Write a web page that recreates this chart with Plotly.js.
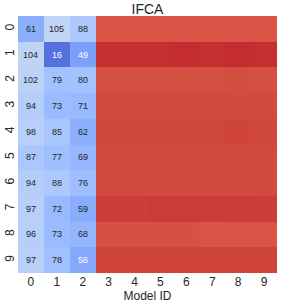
<!DOCTYPE html>
<html>
<head>
<meta charset="utf-8">
<script src="https://cdn.plot.ly/plotly-3.0.1.min.js"></script>
<style>html,body{margin:0;padding:0;background:#fff;}#chart{width:281px;height:305px;}</style>
</head>
<body>
<div id="chart"></div>
<script>
var modelIds = [0,1,2,3,4,5,6,7,8,9];
var clientIds = [0,1,2,3,4,5,6,7,8,9];
// Rows = clients (y), columns = model IDs (x)
var row0 = [61, 105, 88, 244, 244, 244, 244, 244, 244, 244];
var row1 = [104, 16, 49, 262, 262, 262, 263, 262, 263, 262];
var row2 = [102, 79, 80, 248, 248, 248, 248, 248, 249, 248];
var row3 = [94, 73, 71, 250, 250, 250, 250, 250, 250, 250];
var row4 = [98, 85, 62, 252, 252, 252, 252, 252, 253, 252];
var row5 = [87, 77, 69, 250, 250, 250, 250, 250, 250, 250];
var row6 = [94, 88, 76, 250, 250, 250, 250, 250, 250, 250];
var row7 = [97, 72, 59, 256, 256, 257, 257, 257, 257, 256];
var row8 = [96, 73, 68, 247, 247, 247, 247, 244, 245, 244];
var row9 = [97, 78, 56, 253, 253, 253, 253, 253, 253, 253];
var annotatedCols = [0, 1, 2];
var zRows = [row0,row1,row2,row3,row4,row5,row6,row7,row8,row9];
var zMin = -8, zMax = 274;

var coolwarm = [
[0,'rgb(59,76,192)'],[0.03125,'rgb(68,90,204)'],[0.0625,'rgb(77,104,215)'],[0.09375,'rgb(87,117,225)'],
[0.125,'rgb(98,130,234)'],[0.15625,'rgb(108,142,241)'],[0.1875,'rgb(119,154,247)'],[0.21875,'rgb(130,165,251)'],
[0.25,'rgb(141,176,254)'],[0.28125,'rgb(152,185,255)'],[0.3125,'rgb(163,194,255)'],[0.34375,'rgb(174,201,253)'],
[0.375,'rgb(184,208,249)'],[0.40625,'rgb(194,213,244)'],[0.4375,'rgb(204,217,238)'],[0.46875,'rgb(213,219,230)'],
[0.5,'rgb(221,221,221)'],[0.53125,'rgb(229,216,209)'],[0.5625,'rgb(236,211,197)'],[0.59375,'rgb(241,204,184)'],
[0.625,'rgb(245,196,172)'],[0.65625,'rgb(247,187,159)'],[0.6875,'rgb(247,177,147)'],[0.71875,'rgb(247,166,134)'],
[0.75,'rgb(244,154,123)'],[0.78125,'rgb(241,141,111)'],[0.8125,'rgb(236,127,99)'],[0.84375,'rgb(229,112,89)'],
[0.875,'rgb(222,96,77)'],[0.90625,'rgb(213,80,66)'],[0.9375,'rgb(203,62,56)'],[0.96875,'rgb(192,40,47)'],
[1,'rgb(180,4,38)']];

var annotations = [];
zRows.forEach(function(row, r){
  annotatedCols.forEach(function(c){
    var v = row[c];
    annotations.push({
      x: modelIds[c], y: clientIds[r], xref:'x', yref:'y', text: String(v), showarrow:false,
      font:{family:'Liberation Sans, Arial, sans-serif', size:9, color: v < 57.5 ? '#ffffff' : '#262626'}
    });
  });
});

var trace = {
  type:'heatmap', x: modelIds, y: clientIds, z: zRows,
  colorscale: coolwarm, zmin: zMin, zmax: zMax, showscale:false, hoverinfo:'skip'
};

var layout = {
  width:281, height:305,
  margin:{l:18, r:4, t:16, b:32},
  paper_bgcolor:'#ffffff', plot_bgcolor:'#ffffff',
  font:{family:'Liberation Sans, Arial, sans-serif', color:'#262626'},
  title:{text:'IFCA', font:{size:14, color:'#262626'}, x:0.5, xref:'paper', y:1-9/305, yref:'container', yanchor:'middle'},
  xaxis:{tickmode:'array', tickvals:modelIds, ticktext:modelIds.map(String), ticks:'', showgrid:false, zeroline:false,
         tickfont:{size:12, color:'#262626'}, title:{text:'Model ID', font:{size:12, color:'#262626'}, standoff:1}},
  yaxis:{tickmode:'array', tickvals:clientIds, ticktext:clientIds.map(String), ticks:'', showgrid:false, zeroline:false,
         autorange:'reversed', tickangle:-90, tickfont:{size:12, color:'#262626'}, ticklabelstandoff:1},
  annotations: annotations
};

Plotly.newPlot('chart', [trace], layout, {displayModeBar:false, staticPlot:true});
</script>
</body>
</html>
